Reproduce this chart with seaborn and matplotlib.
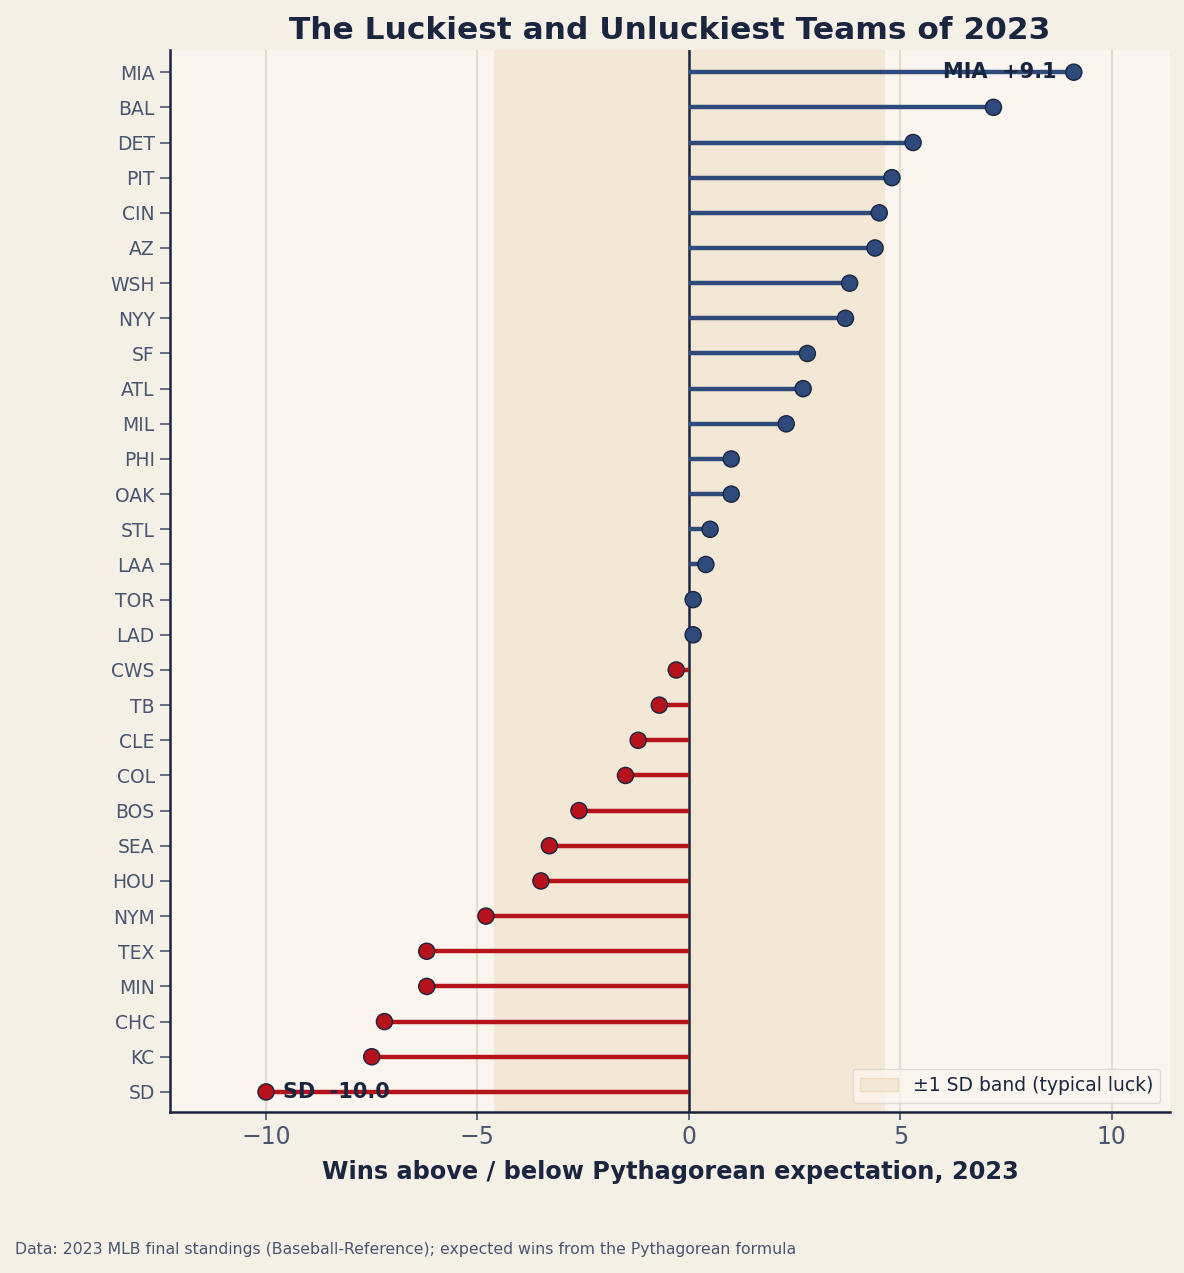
import numpy as np
import pandas as pd
import seaborn as sns
import matplotlib.pyplot as plt
from matplotlib.patches import Patch

teams = ["MIA", "BAL", "DET", "PIT", "CIN", "AZ", "WSH", "NYY", "SF", "ATL",
         "MIL", "PHI", "OAK", "STL", "LAA", "TOR", "LAD", "CWS", "TB", "CLE",
         "COL", "BOS", "SEA", "HOU", "NYM", "TEX", "MIN", "CHC", "KC", "SD"]
luck = [9.1, 7.2, 5.3, 4.8, 4.5, 4.4, 3.8, 3.7, 2.8, 2.7,
        2.3, 1.0, 1.0, 0.5, 0.4, 0.1, 0.1, -0.3, -0.7, -1.2,
        -1.5, -2.6, -3.3, -3.5, -4.8, -6.2, -6.2, -7.2, -7.5, -10.0]
sd_band = 4.62

navy = "#1a2540"
blue = "#2d4a7a"
red = "#b5121b"
grey = "#4a5570"

df = pd.DataFrame({"team": teams, "luck": luck})
df["pos"] = np.arange(len(df))
df["side"] = np.where(df["luck"] > 0, "lucky", "unlucky")
palette = {"lucky": blue, "unlucky": red}

sns.set_style("white")
plt.rcParams["font.family"] = ["DejaVu Sans"]

fig = plt.figure(figsize=(11.84, 12.73), dpi=100, facecolor="#f5f0e6")
ax = fig.add_axes([0.1436, 0.1265, 0.8444, 0.8342])
ax.set_facecolor("#faf6ef")

# band of typical luck
ax.axvspan(-sd_band, sd_band, color="#f3e7d6", zorder=0)
for x in [-10, -5, 5, 10]:
    ax.axvline(x, color="#e5dccb", lw=1.6, zorder=0.5)
ax.axvline(0, color=navy, lw=1.8, zorder=2)

# stems
ax.hlines(df["pos"], 0, df["luck"], colors=df["side"].map(palette), lw=3.2, zorder=3)

sns.scatterplot(data=df, x="luck", y="pos", hue="side", palette=palette,
                s=135, edgecolor=navy, linewidth=1, zorder=4, legend=False, ax=ax)

top = df.iloc[0]
bot = df.iloc[-1]
ax.text(top["luck"] - 0.4, top["pos"], f"{top['team']}  +{top['luck']:.1f}",
        ha="right", va="center", fontsize=15, fontweight="bold", color=navy, zorder=5)
ax.text(bot["luck"] + 0.4, bot["pos"], f"{bot['team']}  {bot['luck']:.1f}",
        ha="left", va="center", fontsize=15, fontweight="bold", color=navy, zorder=5)

ax.set_yticks(df["pos"])
ax.set_yticklabels(df["team"])
ax.set_ylim(len(df) - 0.43, -0.63)
ax.set_xlim(-12.27, 11.37)
ax.set_xticks([-10, -5, 0, 5, 10])

ax.tick_params(axis="y", labelsize=13.5, colors=grey, length=7, width=1.2, pad=4, left=True)
ax.tick_params(axis="x", labelsize=17, colors=grey, length=6, width=1.2, bottom=True)
for lab in ax.get_yticklabels() + ax.get_xticklabels():
    lab.set_color(grey)

sns.despine(ax=ax)
for s in ["left", "bottom"]:
    ax.spines[s].set_color(navy)
    ax.spines[s].set_linewidth(1.8)

ax.set_ylabel("")
ax.set_xlabel("Wins above / below Pythagorean expectation, 2023",
              fontsize=17.3, fontweight="bold", color=navy, labelpad=8)
ax.set_title("The Luckiest and Unluckiest Teams of 2023",
             fontsize=22.5, fontweight="bold", color=navy, pad=8)

leg = ax.legend(handles=[Patch(facecolor="#f3e7d6", edgecolor="#efdcc0",
                               label="±1 SD band (typical luck)")],
                loc="lower right", fontsize=13.5, frameon=True,
                facecolor="#faf6ef", edgecolor="#dcd6cc", labelcolor=navy)

fig.text(0.0127, 0.0183, "Data: 2023 MLB final standings (Baseball-Reference); "
         "expected wins from the Pythagorean formula",
         fontsize=11.3, color=grey, ha="left", va="center")

fig.savefig("out.png", dpi=100, facecolor=fig.get_facecolor())
